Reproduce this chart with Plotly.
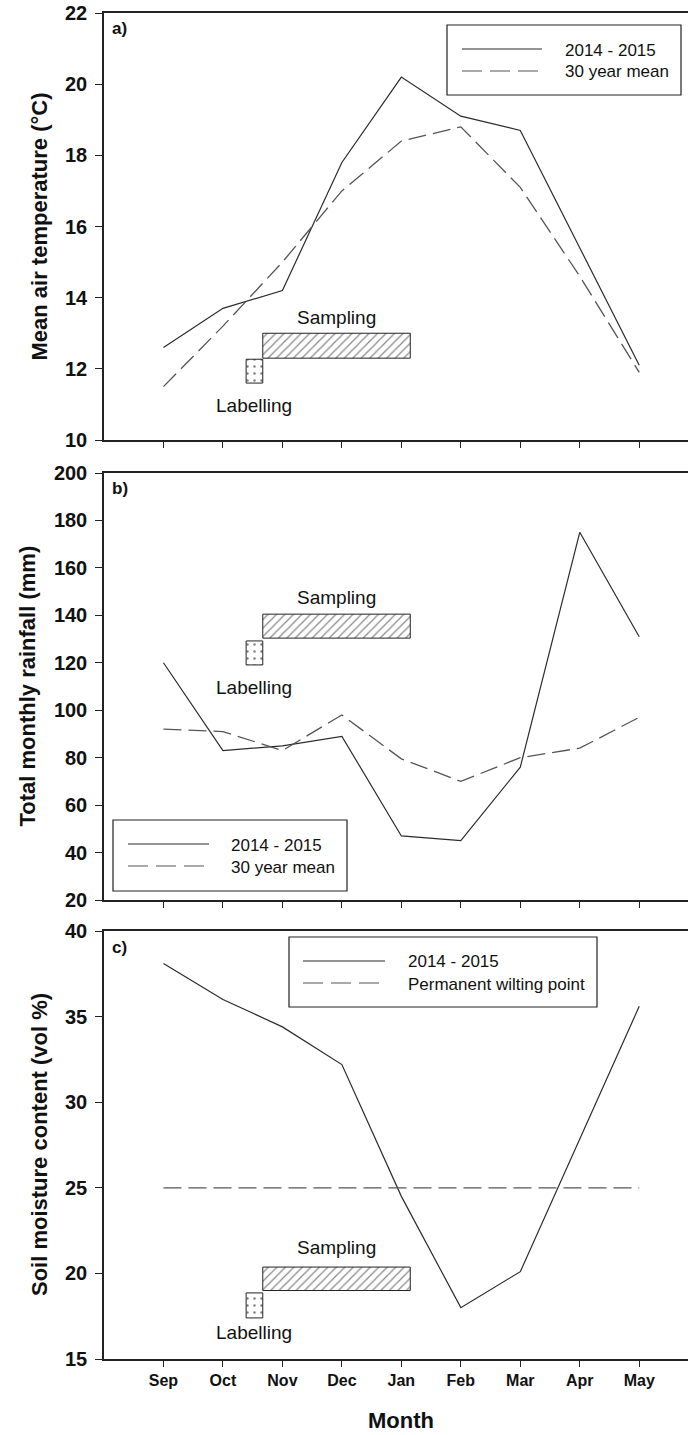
import plotly.graph_objects as go

# ---------------- data ----------------
months = ["Sep", "Oct", "Nov", "Dec", "Jan", "Feb", "Mar", "Apr", "May"]
month_pos = [0, 1, 2, 3, 4, 5, 6, 7, 8]

temp_2014 = [12.6, 13.7, 14.2, 17.8, 20.2, 19.1, 18.7, 15.4, 12.1]
temp_30yr = [11.5, 13.2, 15.0, 17.0, 18.4, 18.8, 17.1, 14.6, 11.9]

rain_2014 = [120, 83, 85, 89, 47, 45, 76, 175, 131]
rain_30yr = [92, 91, 83, 98, 79.5, 70, 80, 84, 97]

soil_2014 = [38.1, 36.0, 34.4, 32.2, 24.5, 18.0, 20.1, 27.8, 35.6]
wilting_point = [25, 25, 25, 25, 25, 25, 25, 25, 25]

# periods (in month-index units)
labelling_period = [1.39, 1.67]
sampling_period = [1.67, 4.15]

# ---------------- geometry helpers ----------------
W, H = 688, 1435
ML, MR, MT, MB = 104, 0, 13, 76
PW, PH = W - ML - MR, H - MT - MB


def px_x(px):
    return (px - ML) / PW


def px_y(py):
    return (H - MB - py) / PH


FONT = "Arial, Liberation Sans, sans-serif"
AXC = "#222222"
SOLID_C = "#2b2b2b"
DASH_C = "#555555"
DASH = "18px,7px"

panels = [
    dict(key="a", top=13, bot=440, yr=[10, 22], dt=2, s=temp_2014, d=temp_30yr,
         names=["2014 - 2015", "30 year mean"],
         box=(447, 25, 681, 95), lx=(462, 542, 563), ly=(49, 71),
         title="Mean air temperature (°C)", tx=39,
         samp_y=(12.3, 13.0), lab_y=(11.6, 12.27), samp_t=316.5, lab_t=405),
    dict(key="b", top=473, bot=900, yr=[20, 200], dt=20, s=rain_2014, d=rain_30yr,
         names=["2014 - 2015", "30 year mean"],
         box=(113, 820, 347, 891), lx=(128, 209, 229), ly=(844, 866),
         title="Total monthly rainfall (mm)", tx=27,
         samp_y=(130.4, 140.5), lab_y=(119.1, 129.2), samp_t=596.5, lab_t=686.5),
    dict(key="c", top=931, bot=1359, yr=[15, 40], dt=5, s=soil_2014, d=wilting_point,
         names=["2014 - 2015", "Permanent wilting point"],
         box=(289, 937, 597, 1007), lx=(303, 385, 406), ly=(961, 983),
         title="Soil moisture content (vol %)", tx=39,
         samp_y=(19.0, 20.37), lab_y=(17.4, 18.86), samp_t=1246.5, lab_t=1331.5),
]

fig = go.Figure()
shapes = []
annotations = []

for i, p in enumerate(panels):
    n = {0: "3", 1: "2", 2: ""}[i]
    xa, ya = "x" + n, "y" + n

    fig.add_trace(go.Scatter(x=month_pos, y=p["s"], mode="lines", xaxis=xa, yaxis=ya,
                             line=dict(color=SOLID_C, width=1.2), showlegend=False,
                             name=p["names"][0]))
    fig.add_trace(go.Scatter(x=month_pos, y=p["d"], mode="lines", xaxis=xa, yaxis=ya,
                             line=dict(color=DASH_C, width=1.3, dash=DASH), showlegend=False,
                             name=p["names"][1]))

    # sampling bar (hatched)
    sy0, sy1 = p["samp_y"]
    fig.add_trace(go.Bar(orientation="h", y=[(sy0 + sy1) / 2], x=[sampling_period[1] - sampling_period[0]],
                         base=[sampling_period[0]], width=[sy1 - sy0], xaxis=xa, yaxis=ya,
                         marker=dict(color="white", line=dict(color="#222", width=1),
                                     pattern=dict(shape="/", fgcolor="#111", bgcolor="white",
                                                  size=6, solidity=0.2)),
                         showlegend=False, name="Sampling"))
    ly0, ly1 = p["lab_y"]
    fig.add_trace(go.Bar(orientation="h", y=[(ly0 + ly1) / 2], x=[labelling_period[1] - labelling_period[0]],
                         base=[labelling_period[0]], width=[ly1 - ly0], xaxis=xa, yaxis=ya,
                         marker=dict(color="white", line=dict(color="#222", width=1),
                                     pattern=dict(shape=".", fgcolor="#000", bgcolor="white",
                                                  size=7, solidity=0.1)),
                         showlegend=False, name="Labelling"))

    dom = [px_y(p["bot"]), px_y(p["top"])]
    xaxis = dict(domain=[0, 1], range=[-1, -1 + PW / 59.47], anchor=ya,
                 tickvals=month_pos, ticktext=months, showticklabels=(i == 2),
                 ticks="outside", ticklen=6, tickwidth=1.3, tickcolor=AXC,
                 showline=True, linecolor=AXC, linewidth=1.5, mirror=True,
                 showgrid=False, zeroline=False,
                 tickfont=dict(family=FONT, size=16, color="#111", weight="bold"))
    yaxis = dict(domain=dom, range=p["yr"], dtick=p["dt"], tick0=p["yr"][0], anchor=xa,
                 ticks="outside", ticklen=7, tickwidth=1.3, tickcolor=AXC,
                 showline=True, linecolor=AXC, linewidth=1.5,
                 showgrid=False, zeroline=False, ticklabelstandoff=4,
                 tickfont=dict(family=FONT, size=20, color="#111", weight="bold"))
    fig.update_layout(**{"xaxis" + n: xaxis, "yaxis" + n: yaxis})

    # legend (drawn manually)
    bx0, by0, bx1, by1 = p["box"]
    shapes.append(dict(type="rect", xref="paper", yref="paper",
                       x0=px_x(bx0), x1=px_x(bx1), y0=px_y(by1), y1=px_y(by0),
                       line=dict(color="#222", width=1.2), fillcolor="white", layer="above"))
    lx0, lx1, tx = p["lx"]
    for k, yy in enumerate(p["ly"]):
        shapes.append(dict(type="line", xref="paper", yref="paper",
                           x0=px_x(lx0), x1=px_x(lx1), y0=px_y(yy), y1=px_y(yy),
                           line=dict(color=SOLID_C if k == 0 else DASH_C, width=1.2,
                                     dash="solid" if k == 0 else "20px,8px"), layer="above"))
        annotations.append(dict(xref="paper", yref="paper", x=px_x(tx), y=px_y(yy + 1),
                                text=p["names"][k], showarrow=False, xanchor="left", yanchor="middle",
                                font=dict(family=FONT, size=17, color="#111")))

    # panel letter
    annotations.append(dict(xref="paper", yref="paper", x=px_x(110), y=px_y(p["top"] + 16),
                            text=p["key"] + ")", showarrow=False, xanchor="left", yanchor="middle",
                            font=dict(family=FONT, size=17, color="#111", weight="bold")))
    # axis title
    annotations.append(dict(xref="paper", yref="paper", x=px_x(p["tx"]),
                            y=px_y((p["top"] + p["bot"]) / 2), text=p["title"], textangle=-90,
                            showarrow=False, xanchor="center", yanchor="middle",
                            font=dict(family=FONT, size=22, color="#111", weight="bold")))
    # Sampling / Labelling text
    annotations.append(dict(xref=xa, yref="paper", x=(sampling_period[0] + sampling_period[1]) / 2,
                            y=px_y(p["samp_t"] + 1), text="Sampling", showarrow=False,
                            xanchor="center", yanchor="middle",
                            font=dict(family=FONT, size=19, color="#111")))
    annotations.append(dict(xref=xa, yref="paper", x=(labelling_period[0] + labelling_period[1]) / 2,
                            y=px_y(p["lab_t"] + 1), text="Labelling", showarrow=False,
                            xanchor="center", yanchor="middle",
                            font=dict(family=FONT, size=19, color="#111")))

annotations.append(dict(xref="paper", yref="paper", x=px_x(401), y=px_y(1420), text="Month",
                        showarrow=False, xanchor="center", yanchor="middle",
                        font=dict(family=FONT, size=22, color="#111", weight="bold")))

fig.update_layout(width=W, height=H, margin=dict(l=ML, r=MR, t=MT, b=MB),
                  paper_bgcolor="white", plot_bgcolor="white", barmode="overlay",
                  showlegend=False, shapes=shapes, annotations=annotations)

fig.write_html("out.html")
